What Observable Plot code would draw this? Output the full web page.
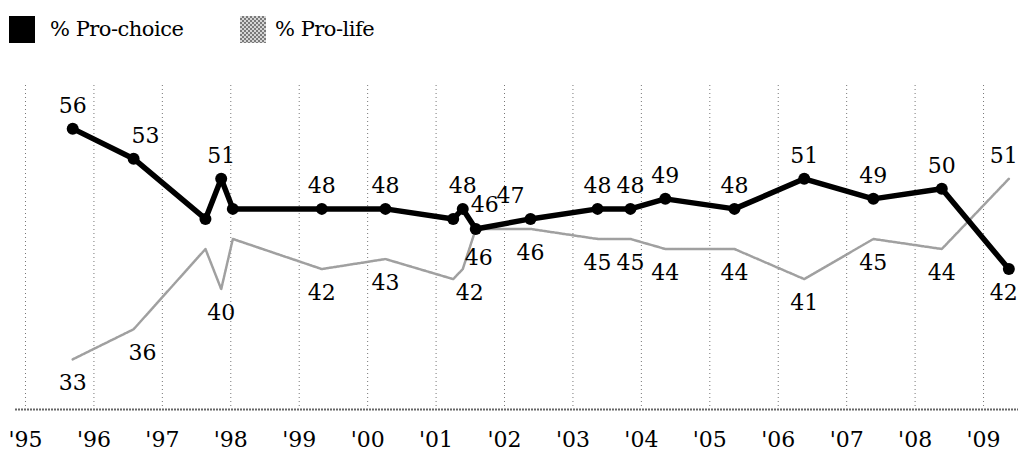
<!DOCTYPE html>
<html>
<head>
<meta charset="utf-8">
<script src="https://cdn.jsdelivr.net/npm/d3@7"></script>
<script src="https://cdn.jsdelivr.net/npm/@observablehq/plot@0.6"></script>
<style>
  body { margin: 0; background: #fff; font-family: "DejaVu Serif", "Liberation Serif", "Noto Serif", serif; }
  #legend { position: relative; height: 50px; width: 1018px; }
  .sw { position: absolute; top: 16px; width: 26px; height: 27px; }
  .lt { position: absolute; top: 15px; font-size: 21px; line-height: 28px; color: #000; white-space: nowrap; letter-spacing: -0.5px; }
  .pl-sw { background: repeating-conic-gradient(#7a7a7a 0 25%, #d6d6d6 0 50%) 0 0 / 4px 4px; }
</style>
</head>
<body>
<div id="legend">
  <div class="sw" style="left:9px;background:#000"></div>
  <div class="lt" style="left:50px">% Pro-choice</div>
  <div class="sw pl-sw" style="left:240px"></div>
  <div class="lt" style="left:275px">% Pro-life</div>
</div>
<div id="chart"></div>
<script>
// Survey dates as fractional years
const surveyDates = [1995.69, 1996.58, 1997.63, 1997.86, 1998.03, 1999.33, 2000.26, 2001.25, 2001.39, 2001.58,
                     2002.38, 2003.36, 2003.84, 2004.35, 2005.36, 2006.38, 2007.39, 2008.39, 2009.37];
const proChoice = [56, 53, 47, 51, 48, 48, 48, 47, 48, 46, 47, 48, 48, 49, 48, 51, 49, 50, 42];
const proLife   = [33, 36, 44, 40, 45, 42, 43, 41, 42, 46, 46, 45, 45, 44, 44, 41, 45, 44, 51];
const unlabeledIdx = [2, 4, 7];
const yearTicks = [1995, 1996, 1997, 1998, 1999, 2000, 2001, 2002, 2003, 2004, 2005, 2006, 2007, 2008, 2009];

const rows = surveyDates.map((d, i) => ({date: d, pc: proChoice[i], pl: proLife[i], i}));
const labeled = rows.filter(r => !unlabeledIdx.includes(r.i));

// label nudges to avoid overlaps (code, not data)
const pcDx = {1: 12, 9: 9, 10: -20, 18: -5};
const pcDy = {9: -1};
const plDx = {1: 9, 8: 7, 9: 3, 18: -5};
const plDy = {9: 5};

const labelRows = [];
for (const r of labeled) {
  const pcAbove = r.pc >= r.pl;
  labelRows.push({date: r.date, v: r.pc, above: pcAbove, dx: pcDx[r.i] || 0, dy: pcDy[r.i] || 0});
  labelRows.push({date: r.date, v: r.pl, above: !pcAbove, dx: plDx[r.i] || 0, dy: plDy[r.i] || 0});
}
const labelGroups = d3.groups(labelRows, d => `${d.above}|${d.dx}|${d.dy}`);
const labelMarks = labelGroups.map(([key, data]) => {
  const {above, dx, dy} = data[0];
  return Plot.text(data, {
    x: "date", y: "v", text: d => String(d.v),
    lineAnchor: above ? "bottom" : "top",
    dx, dy: (above ? -16 : 15) + dy,
    fill: "#000", fontSize: 22
  });
});

const font = '"DejaVu Serif", "Liberation Serif", "Noto Serif", serif';

const chart = Plot.plot({
  width: 1018,
  height: 410,
  marginLeft: 15,
  marginRight: 0,
  marginTop: 35,
  marginBottom: 51,
  style: {fontFamily: font, fontSize: "22px", color: "#000", background: "#fff"},
  x: {type: "linear", domain: [1994.854, 2009.511]},
  y: {domain: [28, 60.3], axis: null},
  marks: [
    Plot.ruleX(yearTicks, {stroke: "#777", strokeWidth: 1, strokeDasharray: "1,3"}),
    Plot.ruleY([28], {stroke: "#666", strokeWidth: 2, strokeDasharray: "2,1"}),
    Plot.axisX({ticks: yearTicks, tickFormat: d => "'" + String(d).slice(2), tickSize: 0, tickPadding: 22,
                fontSize: 22, fill: "#000", label: null}),
    Plot.line(rows, {x: "date", y: "pl", stroke: "#a0a0a0", strokeWidth: 2.5, strokeDasharray: "2,1"}),
    Plot.line(rows, {x: "date", y: "pc", stroke: "#000", strokeWidth: 5.5, strokeLinejoin: "round"}),
    Plot.dot(rows, {x: "date", y: "pc", r: 6, fill: "#000"}),
    ...labelMarks
  ]
});
document.getElementById("chart").appendChild(chart);
</script>
</body>
</html>
